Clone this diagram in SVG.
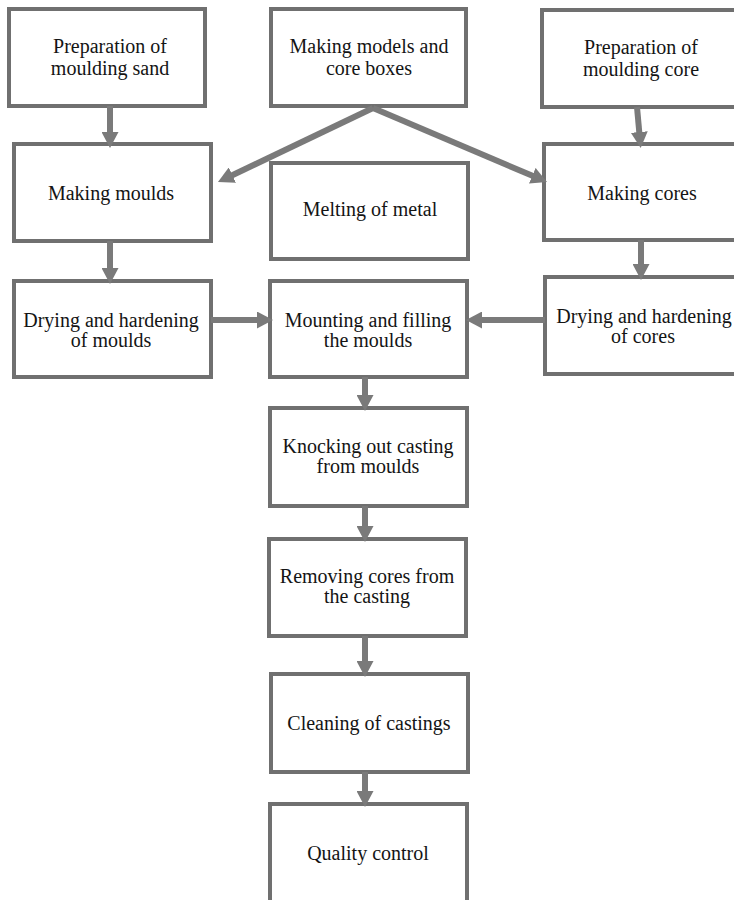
<svg xmlns="http://www.w3.org/2000/svg" width="734" height="900" viewBox="0 0 734 900">
<style>
.box rect{fill:#fff;stroke:#707070;stroke-width:4}
.box text{font-size:20px;fill:#141414;text-anchor:middle}
#connectors line{stroke:#7a7a7a;stroke-width:6;fill:none}
</style>
<defs>
<marker id="ah" markerUnits="userSpaceOnUse" markerWidth="16" markerHeight="17" refX="6" refY="8.5" orient="auto">
<path d="M0,0 L16,8.5 L0,17 z" fill="#7a7a7a"/>
</marker>
</defs>
<rect width="734" height="900" fill="#fff"/>
<g font-family="'Liberation Serif', 'DejaVu Serif', serif">
<g id="n1" class="box"><rect x="9" y="9" width="196" height="97"/><text x="110" y="53">Preparation of</text><text x="110" y="75">moulding sand</text></g>
<g id="n2" class="box"><rect x="271" y="9" width="195" height="97"/><text x="369" y="53">Making models and</text><text x="369" y="75">core boxes</text></g>
<g id="n3" class="box"><rect x="542" y="10" width="200" height="97"/><text x="641" y="54">Preparation of</text><text x="641" y="76">moulding core</text></g>
<g id="n4" class="box"><rect x="14" y="144" width="197" height="97"/><text x="111" y="200">Making moulds</text></g>
<g id="n5" class="box"><rect x="271" y="163" width="197" height="96"/><text x="370" y="216">Melting of metal</text></g>
<g id="n6" class="box"><rect x="544" y="144" width="200" height="96"/><text x="642" y="200">Making cores</text></g>
<g id="n7" class="box"><rect x="14" y="281" width="197" height="96"/><text x="111" y="327">Drying and hardening</text><text x="111" y="347">of moulds</text></g>
<g id="n8" class="box"><rect x="270" y="281" width="197" height="96"/><text x="368" y="327">Mounting and filling</text><text x="368" y="347">the moulds</text></g>
<g id="n9" class="box"><rect x="545" y="277" width="200" height="97"/><text x="644" y="323">Drying and hardening</text><text x="643" y="343">of cores</text></g>
<g id="n10" class="box"><rect x="270" y="408" width="197" height="98"/><text x="368" y="453">Knocking out casting</text><text x="368" y="473">from moulds</text></g>
<g id="n11" class="box"><rect x="269" y="539" width="197" height="97"/><text x="367" y="583">Removing cores from</text><text x="367" y="603">the casting</text></g>
<g id="n12" class="box"><rect x="271" y="674" width="197" height="98"/><text x="369" y="730">Cleaning of castings</text></g>
<g id="n13" class="box"><rect x="270" y="804" width="197" height="120"/><text x="368" y="860">Quality control</text></g>
</g>
<g id="connectors">
<line x1="110" y1="106" x2="110" y2="138" marker-end="url(#ah)"/>
<line x1="373" y1="108" x2="227" y2="177.7" marker-end="url(#ah)"/>
<line x1="373" y1="108" x2="537.8" y2="178.1" marker-end="url(#ah)"/>
<line x1="637" y1="107" x2="639.8" y2="138" marker-end="url(#ah)"/>
<line x1="110" y1="241" x2="110" y2="274" marker-end="url(#ah)"/>
<line x1="641" y1="240" x2="641" y2="270" marker-end="url(#ah)"/>
<line x1="211" y1="320" x2="263" y2="320" marker-end="url(#ah)"/>
<line x1="545" y1="320" x2="476" y2="320" marker-end="url(#ah)"/>
<line x1="365" y1="377" x2="365" y2="401" marker-end="url(#ah)"/>
<line x1="365" y1="506" x2="365" y2="532" marker-end="url(#ah)"/>
<line x1="365" y1="636" x2="365" y2="667" marker-end="url(#ah)"/>
<line x1="365" y1="772" x2="365" y2="797" marker-end="url(#ah)"/>
</g>
</svg>
